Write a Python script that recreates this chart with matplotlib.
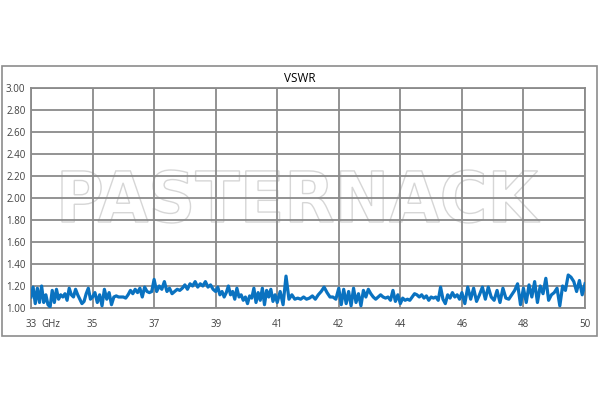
import numpy as np
import matplotlib
matplotlib.use("Agg")
import matplotlib.pyplot as plt
from matplotlib.textpath import TextPath
from matplotlib.patches import PathPatch, Rectangle
from matplotlib.font_manager import FontProperties
from matplotlib.transforms import Affine2D

# ---- data ----
tick_labels = ["33", "35", "37", "39", "41", "42", "44", "46", "48", "50"]
y_ticks = [1.00, 1.20, 1.40, 1.60, 1.80, 2.00, 2.20, 2.40, 2.60, 2.80, 3.00]

seg_33_35 = [1.10, 1.19, 1.04, 1.18, 1.05, 1.20, 1.05, 1.12, 1.03, 1.01, 1.16, 1.05,
             1.17, 1.08, 1.12, 1.10, 1.13, 1.07, 1.18, 1.12, 1.10, 1.17, 1.12, 1.08,
             1.04, 1.06, 1.13, 1.18, 1.08]
seg_35_37 = [1.10, 1.14, 1.05, 1.12, 1.02, 1.17, 1.08, 1.14, 1.03, 1.10, 1.11, 1.10,
             1.10, 1.10, 1.09, 1.12, 1.16, 1.13, 1.17, 1.14, 1.18, 1.10, 1.19, 1.15,
             1.14, 1.15]
seg_37_39 = [1.26, 1.15, 1.20, 1.17, 1.24, 1.15, 1.18, 1.13, 1.15, 1.17, 1.16, 1.18,
             1.21, 1.17, 1.22, 1.20, 1.24, 1.19, 1.22, 1.20, 1.24, 1.19, 1.21, 1.17]
seg_39_41 = [1.15, 1.19, 1.12, 1.15, 1.10, 1.14, 1.20, 1.12, 1.15, 1.08, 1.18, 1.10,
             1.12, 1.07, 1.10, 1.04, 1.11, 1.09, 1.18, 1.05, 1.14, 1.07, 1.18, 1.03,
             1.16, 1.10, 1.17, 1.06, 1.12]
seg_41_42 = [1.05, 1.15, 1.03, 1.29, 1.08, 1.12, 1.08, 1.09, 1.08, 1.10, 1.08, 1.09,
             1.11, 1.08, 1.12, 1.15, 1.19, 1.14, 1.10, 1.10, 1.08]
seg_42_44 = [1.18, 1.03, 1.17, 1.04, 1.15, 1.02, 1.18, 1.05, 1.13, 1.02, 1.16, 1.10,
             1.17, 1.13, 1.10, 1.08, 1.10, 1.12, 1.10, 1.09, 1.10, 1.07, 1.16, 1.06,
             1.12]
seg_44_46 = [1.04, 1.09, 1.07, 1.08, 1.07, 1.10, 1.13, 1.12, 1.10, 1.12, 1.09, 1.11,
             1.07, 1.10, 1.09, 1.10, 1.07, 1.19, 1.08, 1.04, 1.12, 1.09, 1.14, 1.10,
             1.12, 1.08]
seg_46_48 = [1.14, 1.04, 1.19, 1.08, 1.18, 1.06, 1.12, 1.19, 1.08, 1.19, 1.10, 1.07,
             1.16, 1.05, 1.18, 1.09, 1.08, 1.12, 1.16, 1.22, 1.03]
seg_48_50 = [1.18, 1.05, 1.21, 1.10, 1.24, 1.05, 1.20, 1.13, 1.27, 1.07, 1.12, 1.14,
             1.18, 1.02, 1.20, 1.16, 1.30, 1.28, 1.24, 1.15, 1.25, 1.12, 1.22]

segments = [seg_33_35, seg_35_37, seg_37_39, seg_39_41, seg_41_42,
            seg_42_44, seg_44_46, seg_46_48, seg_48_50]

xs, ys = [], []
for i, seg in enumerate(segments):
    n = len(seg)
    if i == len(segments) - 1:
        pos = np.linspace(i, i + 1, n)
    else:
        pos = i + np.arange(n) / n
    xs.extend(pos)
    ys.extend(seg)

plt.rcParams['font.family'] = ['Open Sans', 'DejaVu Sans']

fig = plt.figure(figsize=(6, 4), dpi=100)
fig.patch.set_facecolor("white")

# outer border
fig.add_artist(Rectangle((2 / 600, 64 / 400), 595 / 600, 270 / 400,
                         transform=fig.transFigure, fill=False,
                         edgecolor="#8c8c8c", linewidth=1.2, zorder=-2))

# watermark
tp = TextPath((0, 0), "PASTERNACK", size=1,
              prop=FontProperties(family="DejaVu Sans", weight="bold"))
ext = tp.get_extents()
x0, x1 = 62, 540
y0, y1 = 400 - 223, 400 - 170
sx = (x1 - x0) / ext.width
sy = (y1 - y0) / ext.height
tr = Affine2D().translate(-ext.x0, -ext.y0).scale(sx, sy).translate(x0, y0)
fig.add_artist(PathPatch(tp, transform=tr, facecolor="white",
                         edgecolor="#d6d6d6", linewidth=1.0, zorder=-1))

ax = fig.add_axes([31 / 600, 92 / 400, 554 / 600, 220 / 400])
ax.patch.set_alpha(0)
ax.plot(xs, ys, color="#0a72c0", linewidth=2.3, solid_joinstyle="round", zorder=3)

ax.set_xlim(0, 9)
ax.set_ylim(1.0, 3.0)
ax.set_xticks(range(10))
ax.set_xticklabels(tick_labels)
ax.set_yticks(y_ticks)
ax.set_yticklabels([f"{v:.2f}" for v in y_ticks])
ax.grid(True, color="#8a8a8a", linewidth=1.3, zorder=1)
ax.set_axisbelow(True)
for s in ax.spines.values():
    s.set_color("#8a8a8a")
    s.set_linewidth(1.3)
ax.tick_params(length=0, labelsize=7, colors="#404040")
ax.tick_params(axis="x", pad=8)
ax.tick_params(axis="y", pad=4)
ax.text(0.33, -11 / 220, "GHz", transform=ax.get_xaxis_transform(),
        ha="center", va="top", fontsize=7, color="#404040")

fig.text(0.5, 1 - 78 / 400, "VSWR", ha="center", va="center",
         fontsize=8.5, color="black")

fig.savefig("out.png", dpi=100)
